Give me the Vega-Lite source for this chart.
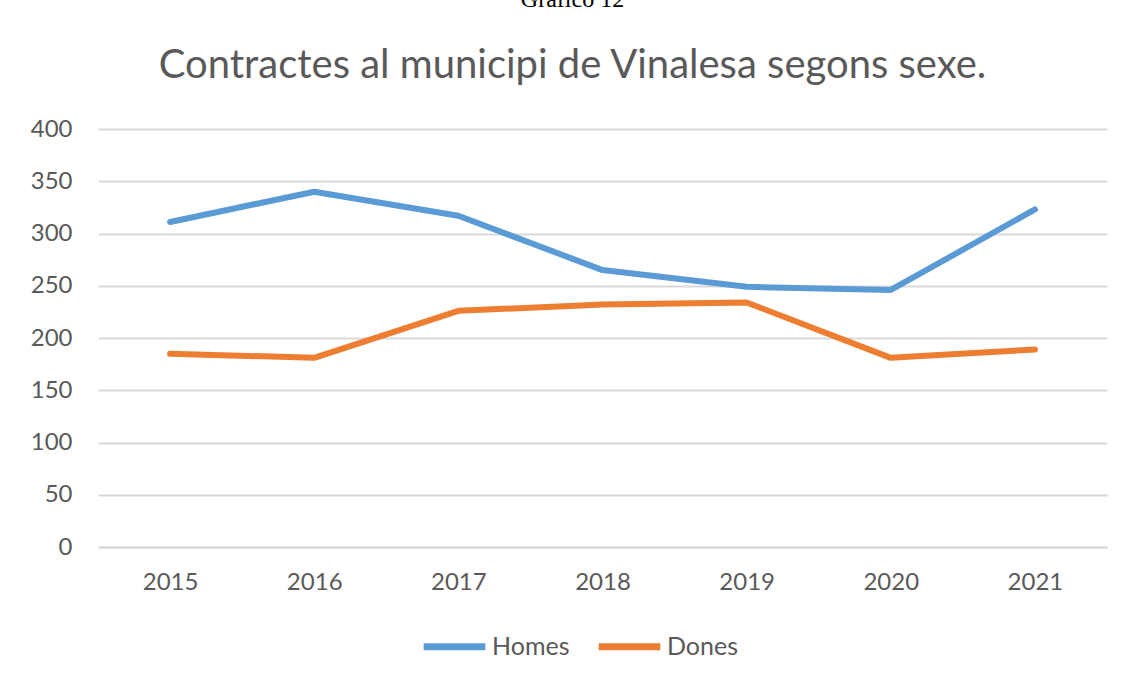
{
  "$schema": "https://vega.github.io/schema/vega-lite/v6.json",
  "width": 1009,
  "height": 418,
  "autosize": {"type": "none"},
  "padding": {"left": 98, "top": 129, "right": 24, "bottom": 140},
  "background": "white",
  "title": {
    "text": "Gráfico 12",
    "subtitle": "Contractes al municipi de Vinalesa segons sexe.",
    "anchor": "middle",
    "frame": "group",
    "dx": -30,
    "offset": 7,
    "font": "Liberation Serif",
    "fontSize": 24,
    "fontWeight": "normal",
    "color": "#000000",
    "baseline": "bottom",
    "subtitleFont": "Lato",
    "subtitleFontSize": 40,
    "subtitleColor": "#595959",
    "subtitlePadding": 50
  },
  "data": {
    "values": [
      {"year": "2015", "sexe": "Homes", "value": 311},
      {"year": "2016", "sexe": "Homes", "value": 340},
      {"year": "2017", "sexe": "Homes", "value": 317},
      {"year": "2018", "sexe": "Homes", "value": 265},
      {"year": "2019", "sexe": "Homes", "value": 249},
      {"year": "2020", "sexe": "Homes", "value": 246},
      {"year": "2021", "sexe": "Homes", "value": 323},
      {"year": "2015", "sexe": "Dones", "value": 185},
      {"year": "2016", "sexe": "Dones", "value": 181},
      {"year": "2017", "sexe": "Dones", "value": 226},
      {"year": "2018", "sexe": "Dones", "value": 232},
      {"year": "2019", "sexe": "Dones", "value": 234},
      {"year": "2020", "sexe": "Dones", "value": 181},
      {"year": "2021", "sexe": "Dones", "value": 189}
    ]
  },
  "mark": {"type": "line", "strokeWidth": 6, "strokeCap": "round", "strokeJoin": "round"},
  "encoding": {
    "x": {
      "field": "year",
      "type": "ordinal",
      "scale": {"type": "point", "padding": 0.5},
      "axis": {
        "title": null,
        "labelAngle": 0,
        "ticks": false,
        "domain": true,
        "domainColor": "#d9d9d9",
        "domainWidth": 2,
        "labelPadding": 23,
        "labelFont": "Lato",
        "labelFontSize": 24,
        "labelColor": "#595959",
        "grid": false
      }
    },
    "y": {
      "field": "value",
      "type": "quantitative",
      "scale": {"domain": [0, 400]},
      "axis": {
        "title": null,
        "values": [0, 50, 100, 150, 200, 250, 300, 350, 400],
        "ticks": false,
        "domain": false,
        "grid": true,
        "gridColor": "#d9d9d9",
        "gridWidth": 2,
        "labelPadding": 26,
        "labelFont": "Lato",
        "labelFontSize": 24,
        "labelColor": "#595959"
      }
    },
    "color": {
      "field": "sexe",
      "type": "nominal",
      "sort": ["Homes", "Dones"],
      "scale": {"domain": ["Homes", "Dones"], "range": ["#5b9bd5", "#ed7d31"]},
      "legend": {
        "title": null,
        "orient": "none",
        "direction": "horizontal",
        "legendX": 322,
        "legendY": 483,
        "symbolType": "stroke",
        "symbolStrokeWidth": 7,
        "symbolSize": 3800,
        "labelFont": "Lato",
        "labelFontSize": 25,
        "labelColor": "#595959",
        "labelOffset": 3,
        "columnPadding": 14
      }
    }
  },
  "config": {"view": {"stroke": null}}
}
